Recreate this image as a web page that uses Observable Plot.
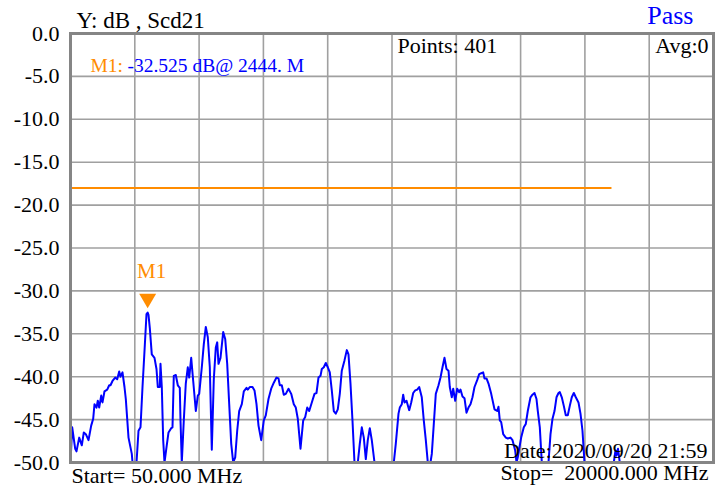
<!DOCTYPE html>
<html>
<head>
<meta charset="utf-8">
<script src="https://cdn.jsdelivr.net/npm/d3@7"></script>
<script src="https://cdn.jsdelivr.net/npm/@observablehq/plot@0.6"></script>
<style>
  html, body { margin: 0; padding: 0; background: #fff; }
  #chart svg { display: block; }
  #chart svg text { font-family: 'Liberation Serif', 'Times New Roman', serif; }
</style>
</head>
<body>
<div id="chart"></div>
<script>
// Frequency (MHz) of the Scd21 trace samples
const freqMHz = [50,103,196,236,320,401,463,525,609,692,754,795,857,897,940,1003,1043,1105,1189,1251,1291,1353,1437,1499,1561,1601,1663,1725,1766,1850,1952,1974,2098,2160,2222,2284,2346,2408,2444,2470,2510,2572,2656,2718,2759,2821,2842,2883,2926,2966,3029,3091,3174,3215,3255,3317,3379,3441,3463,3503,3565,3627,3689,3733,3795,3857,3938,4000,4043,4124,4186,4248,4310,4372,4434,4496,4558,4602,4642,4704,4788,4850,4912,4974,5036,5098,5160,5222,5284,5365,5427,5511,5551,5613,5697,5759,5821,5883,5967,6047,6109,6193,6277,6358,6441,6503,6544,6606,6668,6730,6814,6898,6978,7040,7102,7186,7270,7332,7394,7456,7537,7620,7682,7744,7807,7847,7909,7971,8033,8095,8157,8219,8281,8343,8405,8467,8551,8623,8675,8737,8799,8861,8964,9026,9088,9150,9212,9274,9336,9398,9482,10081,10143,10227,10267,10329,10372,10413,10475,10559,10621,10683,10745,10807,10869,10949,11011,11074,11136,11219,11260,11322,11384,11468,11530,11592,11654,11716,11778,11818,11880,11924,11986,12048,12110,12150,12212,12274,12336,12398,12460,12522,12585,12668,12730,12792,12854,12895,12957,13019,13103,13205,13289,13329,13370,13413,13475,13556,13618,13701,13764,13847,13888,13928,13971,14033,14114,14176,14238,14322,14384,14446,14508,14549,14611,14673,14880,14943,15005,15067,15129,15191,15231,15293,15355,15417,15479,15541,15603,15666,15728,15811,15873,15935,15997,16906,16959,16990,17037,17092,20000];
// Scd21 magnitude (dB) at those frequencies
const scd21dB = [-50,-45.9,-48.4,-48.7,-47.1,-48.0,-46.5,-46.7,-47.4,-45.7,-44.9,-43.2,-43.6,-42.8,-43.6,-42.2,-43.0,-41.7,-41.5,-41.0,-41.0,-40.5,-40.1,-40.3,-39.4,-40.0,-39.5,-41.2,-42.6,-47.1,-49.0,-50,-50,-46.3,-45.9,-41.2,-37.0,-32.7,-32.525,-32.8,-34.3,-37.4,-37.8,-39.1,-41.2,-41.2,-38.5,-41.2,-47.4,-50,-48.2,-46.5,-46.0,-45.9,-39.9,-39.8,-41.0,-41.3,-45.1,-50,-45.1,-40.8,-38.9,-40.1,-37.8,-40.5,-44.0,-42.2,-42.0,-38.9,-36.2,-34.2,-35.4,-38.9,-48.5,-40.3,-36.6,-36.0,-38.5,-37.8,-34.8,-35.6,-38.5,-43.2,-47.8,-50,-49.4,-46.3,-44.0,-43.2,-41.7,-41.3,-41.5,-41.2,-41.2,-41.6,-43.2,-45.7,-47.4,-45.1,-44.5,-42.6,-41.4,-40.7,-40.1,-40.2,-41.0,-41.0,-42.1,-42.0,-41.4,-42.0,-43.2,-43.6,-44.9,-48.4,-45.1,-44.7,-43.6,-44.0,-43.0,-42.0,-41.9,-40.1,-39.9,-39.1,-38.9,-38.4,-38.9,-39.5,-41.6,-44.0,-44.3,-43.8,-42.0,-39.3,-38.1,-36.9,-37.4,-40.8,-45.1,-50,-50,-47.8,-45.9,-47.1,-49.6,-47.4,-46.0,-47.4,-50,-50,-47.8,-44.3,-43.6,-43.2,-42.1,-43.0,-42.8,-43.9,-43.0,-41.9,-41.6,-41.5,-41.2,-42.4,-45.1,-47.4,-50,-50,-49.0,-45.5,-42.0,-41.0,-40.1,-38.9,-37.8,-39.1,-39.3,-41.2,-42.4,-41.4,-42.8,-41.4,-41.8,-41.5,-42.3,-42.5,-44.2,-43.6,-43.2,-42.4,-41.2,-40.4,-39.7,-39.6,-39.5,-40.2,-40.2,-40.8,-42.0,-43.8,-44.0,-43.5,-45.1,-45.3,-46.7,-47.1,-47.2,-47.1,-47.4,-48.6,-50,-49.4,-48.4,-47.1,-45.9,-45.5,-44.0,-42.4,-42.1,-41.9,-42.6,-44.0,-45.9,-50,-50,-46.7,-44.9,-44.0,-42.4,-41.9,-41.8,-42.4,-43.4,-44.5,-44.5,-43.4,-42.4,-41.9,-42.4,-43.0,-44.3,-46.3,-50,-50,-48.6,-49.2,-48.4,-50,-50];

// Axis ticks and grid divisions
const yTicks = [0,-5,-10,-15,-20,-25,-30,-35,-40,-45,-50];
const xGridMHz = [2045,4040,6035,8030,10025,12020,14015,16010,18005];
const xDomain = [50, 20000];

// Limit line
const limitDB = [-18];
const limitSpanMHz = [50, 16850];

// Marker
const markerName = ["M1"];
const markerFreq = [2444];
const markerDB = [-32.525];

// Texts
const yTitle = "Y: dB , Scd21";
const pointsText = "Points: 401";
const avgText = "Avg:0";
const passText = "Pass";
const markerPrefix = "M1:";
const markerReadout = "-32.525 dB@ 2444. M";
const startText = "Start= 50.000 MHz";
const stopText = "Stop=  20000.000 MHz";
const dateText = "Date:2020/09/20 21:59";

const trace = freqMHz.map((f, i) => ({f, db: scd21dB[i]}));
const markers = markerName.map((n, i) => ({name: n, f: markerFreq[i], db: markerDB[i]}));

const ORANGE = "#ff8c00";
const BLUE = "#0000ff";
const GRID = "#a0a0a0";
const FONT = "'Liberation Serif', 'Times New Roman', serif";

const note = (text, anchor, dx, dy, opts = {}) =>
  Plot.text([text], {
    text: d => d,
    frameAnchor: anchor,
    dx, dy,
    lineAnchor: "bottom",
    fontSize: 22,
    fontFamily: FONT,
    fill: "black",
    ...opts
  });

const chart = Plot.plot({
  width: 727,
  height: 489,
  marginLeft: 70,
  marginRight: 14,
  marginTop: 33,
  marginBottom: 27,
  x: {domain: xDomain, axis: null},
  y: {domain: [-50, 0], label: null},
  style: {fontFamily: FONT, fontSize: "22px", background: "#fff", color: "#000", overflow: "visible"},
  marks: [
    Plot.gridX(xGridMHz, {stroke: GRID, strokeOpacity: 1, strokeWidth: 1.6}),
    Plot.gridY(yTicks, {stroke: GRID, strokeOpacity: 1, strokeWidth: 1.6}),
    Plot.axisY(yTicks, {tickSize: 0, tickPadding: 11, tickFormat: d => d.toFixed(1), fontSize: 22, fontFamily: FONT, fill: "#000", label: null}),
    Plot.ruleY(limitDB, {x1: limitSpanMHz[0], x2: limitSpanMHz[1], stroke: ORANGE, strokeWidth: 2}),
    Plot.line(trace, {x: "f", y: "db", stroke: BLUE, strokeWidth: 2, strokeLinejoin: "round"}),
    Plot.frame({stroke: "#858585", strokeWidth: 3}),
    Plot.dot(markers, {x: "f", y: "db", symbol: "triangle", rotate: 180, r: 6.3, fill: ORANGE, stroke: "none", dy: -14}),
    Plot.text(markers, {x: "f", y: "db", text: "name", dx: 4, dy: -35, lineAnchor: "bottom", fill: ORANGE, fontSize: 21, fontFamily: FONT}),
    note(yTitle, "top-left", 6, -6, {textAnchor: "start", fontSize: 23}),
    note(pointsText, "top-left", 327, 19, {textAnchor: "start"}),
    note(avgText, "top-right", -5, 19, {textAnchor: "end"}),
    note(passText, "top-right", -20, -10, {textAnchor: "end", fill: BLUE, fontSize: 26}),
    note(markerPrefix, "top-left", 20, 38, {textAnchor: "start", fill: ORANGE, fontSize: 19.5}),
    note(markerReadout, "top-left", 57, 38, {textAnchor: "start", fill: BLUE, fontSize: 19.5}),
    note(startText, "bottom-left", 1, 20, {textAnchor: "start"}),
    note(stopText, "bottom-right", -5, 17, {textAnchor: "end"}),
    note(dateText, "bottom-right", -6, -5, {textAnchor: "end"})
  ]
});

document.getElementById("chart").appendChild(chart);
</script>
</body>
</html>
